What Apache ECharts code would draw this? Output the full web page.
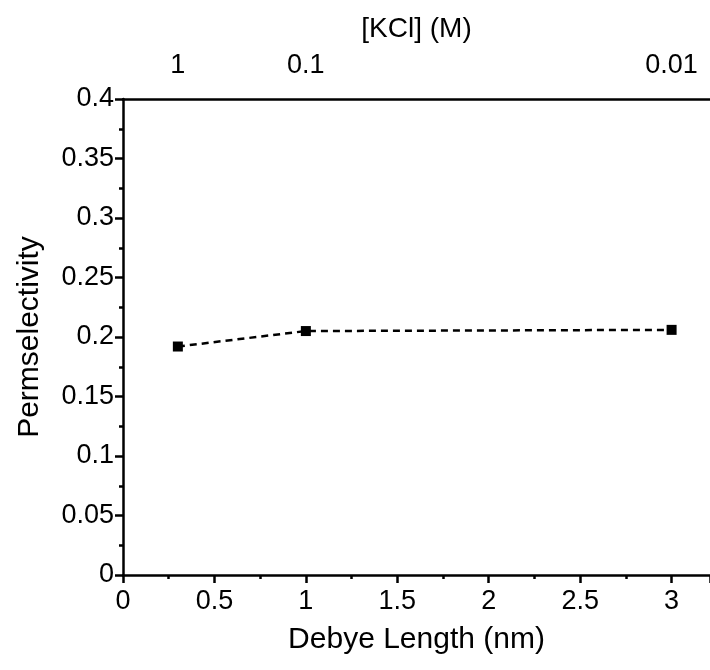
<!DOCTYPE html>
<html>
<head>
<meta charset="utf-8">
<script src="https://cdn.jsdelivr.net/npm/echarts@6/dist/echarts.min.js"></script>
<style>html,body{margin:0;padding:0;background:#fff;}#c{width:710px;height:670px;}</style>
</head>
<body>
<div id="c"></div>
<script>
var debyeLength = [0.3, 1, 3];
var permselectivity = [0.192, 0.205, 0.206];
var topTickPositions = [0.3, 1, 3];
var topTickLabels = ['1', '0.1', '0.01'];
var xMin = 0, xMax = 3.21, xInterval = 0.5;
var yMin = 0, yMax = 0.4, yInterval = 0.05;

var font = 'Liberation Sans, Arial, sans-serif';
var chart = echarts.init(document.getElementById('c'), null, {renderer: 'canvas'});
var axisLineStyle = {color: '#000', width: 2.5};
chart.setOption({
  backgroundColor: '#fff',
  animation: false,
  grid: {left: 123, right: 0, top: 99, bottom: 95, containLabel: false},
  xAxis: [{
    type: 'value', position: 'bottom', min: xMin, max: xMax, interval: xInterval,
    name: 'Debye Length (nm)', nameLocation: 'middle', nameGap: 50,
    nameTextStyle: {fontFamily: font, fontSize: 30, color: '#000'},
    axisLine: {show: true, onZero: false, lineStyle: axisLineStyle},
    axisTick: {show: true, inside: false, length: 8, lineStyle: {color: '#000', width: 2.5}},
    minorTick: {show: true, splitNumber: 2, length: 4, lineStyle: {color: '#000', width: 2.5}},
    axisLabel: {fontFamily: font, fontSize: 27, color: '#000', margin: 13,
      showMaxLabel: false,
      formatter: function (v) { return String(Math.round(v * 100) / 100); }},
    splitLine: {show: false}
  }, {
    type: 'value', position: 'top', min: xMin, max: xMax,
    name: '[KCl] (M)', nameLocation: 'middle', nameGap: 56,
    nameTextStyle: {fontFamily: font, fontSize: 28, color: '#000'},
    axisLine: {show: true, onZero: false, lineStyle: axisLineStyle},
    axisTick: {show: false},
    axisLabel: {fontFamily: font, fontSize: 27, color: '#000', margin: 20,
      customValues: topTickPositions,
      formatter: function (v) {
        var i = topTickPositions.indexOf(Math.round(v * 100) / 100);
        return i >= 0 ? topTickLabels[i] : '';
      }},
    splitLine: {show: false}
  }],
  yAxis: {
    type: 'value', min: yMin, max: yMax, interval: yInterval,
    name: 'Permselectivity', nameLocation: 'middle', nameGap: 78,
    nameTextStyle: {fontFamily: font, fontSize: 30, color: '#000'},
    axisLine: {show: true, onZero: false, lineStyle: axisLineStyle},
    axisTick: {show: true, inside: false, length: 8, lineStyle: {color: '#000', width: 2.5}},
    minorTick: {show: true, splitNumber: 2, length: 4, lineStyle: {color: '#000', width: 2.5}},
    axisLabel: {fontFamily: font, fontSize: 27, color: '#000', margin: 9,
      formatter: function (v) { return String(Math.round(v * 1000) / 1000); }},
    splitLine: {show: false}
  },
  series: [{
    type: 'line',
    data: debyeLength.map(function (x, i) { return [x, permselectivity[i]]; }),
    symbol: 'rect', symbolSize: 10,
    itemStyle: {color: '#000'},
    lineStyle: {color: '#000', width: 2.5, type: [7, 5]}
  }]
});
</script>
</body>
</html>
